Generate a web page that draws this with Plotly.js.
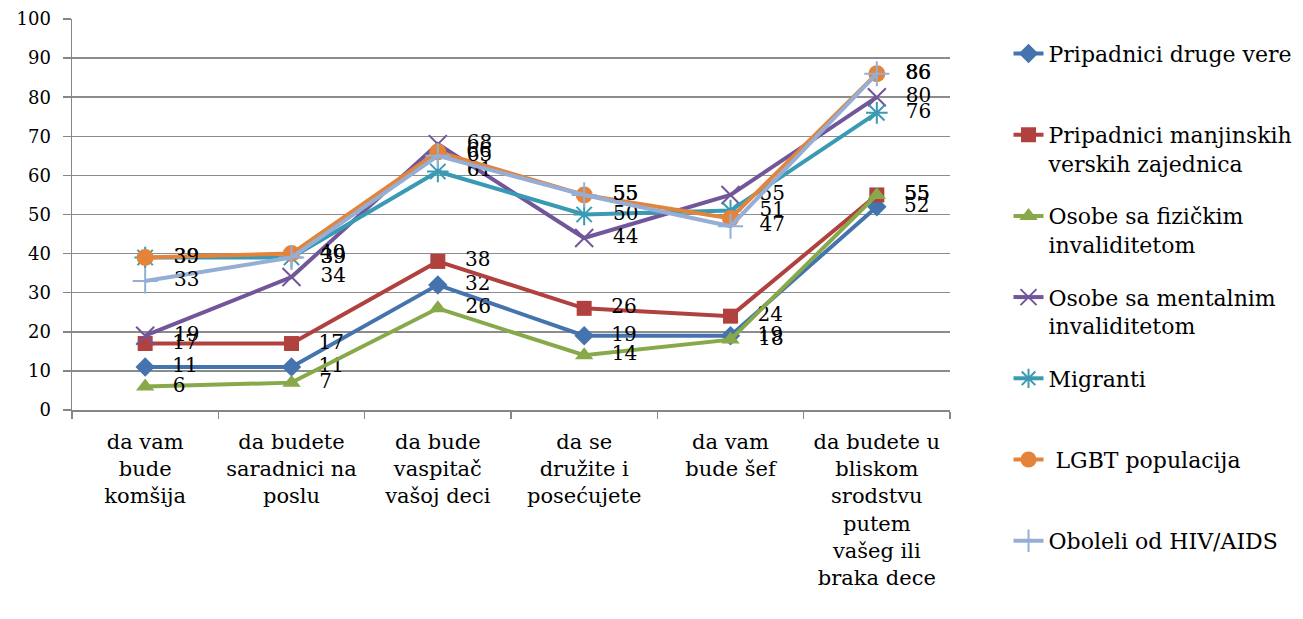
<!DOCTYPE html>
<html>
<head>
<meta charset="utf-8">
<script src="https://cdn.plot.ly/plotly-3.0.1.min.js"></script>
<style>html,body{margin:0;padding:0;background:#fff;}#chart{width:1303px;height:619px;}</style>
</head>
<body>
<div id="chart"></div>
<script>
// ---- data ----
var categories = [
  "da vam<br>bude<br>komšija",
  "da budete<br>saradnici na<br>poslu",
  "da bude<br>vaspitač<br>vašoj deci",
  "da se<br>družite i<br>posećujete",
  "da vam<br>bude šef",
  "da budete u<br>bliskom<br>srodstvu<br>putem<br>vašeg ili<br>braka dece"
];
var seriesNames = [
  "Pripadnici druge vere",
  "Pripadnici manjinskih<br>verskih zajednica",
  "Osobe sa fizičkim<br>invaliditetom",
  "Osobe sa mentalnim<br>invaliditetom",
  "Migranti",
  " LGBT populacija",
  "Oboleli od HIV/AIDS"
];
var drugeVere      = [11, 11, 32, 19, 19, 52];
var manjinske      = [17, 17, 38, 26, 24, 55];
var fizicki        = [6, 7, 26, 14, 18, 55];
var mentalni       = [19, 34, 68, 44, 55, 80];
var migranti       = [39, 39, 61, 50, 51, 76];
var lgbt           = [39, 40, 66, 55, 49, 86];
var hivAids        = [33, 39, 65, 55, 47, 86];
var seriesValues = [drugeVere, manjinske, fizicki, mentalni, migranti, lgbt, hivAids];
// labels not shown in the original (overlapped)
var hiddenLabels = {5: [4]};

// ---- style ----
var colors = ["#4473AE", "#B0413E", "#87A94A", "#71579A", "#3A9AB4", "#E3843A", "#95AED6"];
var symbols = ["diamond", "square", "triangle-up", "x-thin-open", "asterisk-open", "circle", "cross-thin-open"];
var msizes = [15, 15, 16, 18, 18, 17, 18];
var FONT = "DejaVu Serif, Liberation Serif, serif";
var PAD = "\u00A0\u00A0\u2009";

var traces = seriesValues.map(function (vals, i) {
  var txt = vals.map(function (v, j) {
    return (hiddenLabels[i] && hiddenLabels[i].indexOf(j) >= 0) ? "" : PAD + String(v);
  });
  var nm = seriesNames[i].indexOf("<br>") >= 0 ? seriesNames[i] : seriesNames[i] + "<br> ";
  var thin = symbols[i].indexOf("open") >= 0;
  return {
    type: "scatter",
    mode: "lines+markers+text",
    x: categories,
    y: vals,
    name: nm,
    legendgroup: "g" + i,
    text: txt,
    textposition: "middle right",
    textfont: {family: FONT, size: 20, color: "#000"},
    line: {color: colors[i], width: 4},
    marker: {symbol: symbols[i], size: msizes[i], color: colors[i],
             line: {color: colors[i], width: thin ? 2 : 0}},
    cliponaxis: false,
    hoverinfo: "skip"
  };
});

var layout = {
  width: 1303, height: 619,
  margin: {l: 72, r: 353, t: 19, b: 209},
  paper_bgcolor: "#fff", plot_bgcolor: "#fff",
  font: {family: FONT, size: 19, color: "#000"},
  showlegend: true,
  legend: {
    xref: "container", x: 0.774, xanchor: "left",
    y: 0.965, yanchor: "top",
    valign: "top", tracegroupgap: 21, maxheight: 610,
    font: {family: FONT, size: 22, color: "#000"},
    bgcolor: "rgba(0,0,0,0)"
  },
  xaxis: {
    type: "category", range: [-0.5, 5.5],
    showline: true, linecolor: "#868686", linewidth: 1.5,
    ticks: "outside", tickson: "boundaries", ticklen: 7, tickcolor: "#868686", tickwidth: 1.5,
    showgrid: false, zeroline: false,
    tickfont: {family: FONT, size: 21, color: "#000"},
    ticklabelstandoff: 12,
    tickangle: 0, automargin: false
  },
  yaxis: {
    range: [0, 100], dtick: 10, tick0: 0,
    showline: true, linecolor: "#868686", linewidth: 1.5,
    ticks: "outside", ticklen: 8, tickcolor: "#868686", tickwidth: 1.5,
    showgrid: true, gridcolor: "#8C8C8C", gridwidth: 1.5,
    zeroline: false,
    tickfont: {family: FONT, size: 18, color: "#000"},
    ticklabelstandoff: 8,
    automargin: false
  }
};

Plotly.newPlot("chart", traces, layout, {displayModeBar: false, staticPlot: true});
</script>
</body>
</html>
